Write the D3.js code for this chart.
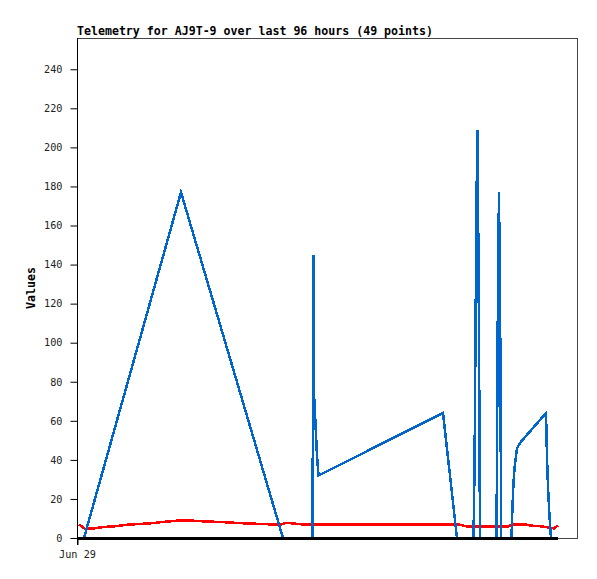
<!DOCTYPE html>
<html>
<head>
<meta charset="utf-8">
<script src="https://cdn.jsdelivr.net/npm/d3@7"></script>
<style>
  html, body { margin: 0; padding: 0; background: #fff; }
  svg { display: block; }
</style>
</head>
<body>
<script>
// ---- data (hours after Jun 29 00:00) ----
const titleText = "Telemetry for AJ9T-9 over last 96 hours (49 points)";
const yLabel = "Values";
const yTicks = [0, 20, 40, 60, 80, 100, 120, 140, 160, 180, 200, 220, 240];
const xTickLabels = ["Jun 29"];

const redHours = [0.40, 1.60, 3.61, 5.61, 7.62, 10.02, 12.63, 14.63, 17.23, 20.04, 23.25, 25.65,
  28.66, 33.67, 38.68, 40.48, 42.08, 44.09, 46.09, 50.70, 56.71, 62.73, 68.74, 74.75, 76.75,
  77.56, 78.36, 82.77, 86.37, 86.97, 90.18, 90.78, 92.79, 94.59, 95.59, 96.39];
const redValues = [7.0, 4.7, 5.0, 5.7, 6.0, 6.8, 7.2, 7.5, 8.2, 8.85, 8.85, 8.5,
  8.2, 7.5, 7.0, 6.7, 7.8, 7.2, 6.8, 6.8, 6.8, 6.8, 6.8, 6.8, 6.8,
  6.3, 5.8, 5.8, 5.8, 6.8, 6.8, 6.4, 6.0, 5.4, 4.9, 6.4];

const blueHours = [0.40, 1.40, 20.84, 41.28, 47.19, 47.39, 47.49, 47.80, 48.10, 48.40, 73.35, 73.65,
  76.15, 79.46, 79.66, 79.86, 80.06, 80.26, 80.56, 80.76, 84.07, 84.17, 84.37, 84.57, 84.87,
  84.97, 87.07, 87.27, 87.47, 87.68, 87.88, 88.18, 88.88, 93.99, 94.19, 94.39, 94.69, 94.99, 96.39];
const blueValues = [0, 0, 177, 0, 0, 145, 74, 58, 42, 32, 64, 57,
  0, 0, 35, 104, 174, 209, 104, 0, 0, 44, 132, 177, 88,
  0, 0, 16, 28, 36, 40, 46, 49, 64, 41, 26, 11, 0, 0];

const zeroHours = [0.0, 96.39];
const zeroValues = [0, 0];

// ---- layout ----
const W = 597, H = 579;
const mL = 77, mR = 578, mT = 38, mB = 538;
const start = new Date(2024, 5, 29, 0, 0, 0);
const hr = h => new Date(start.getTime() + h * 3600000);

const svg = d3.select("body").append("svg").attr("width", W).attr("height", H);

const x = d3.scaleTime().domain([hr(0), hr(100.4)]).range([mL, mR]);
const y = d3.scaleLinear().domain([0, 256]).range([mB, mT]);

// frame
svg.append("rect").attr("x", mL + 0.5).attr("y", mT + 0.5)
  .attr("width", mR - mL - 1).attr("height", mB - mT)
  .attr("fill", "none").attr("stroke", "#444").attr("stroke-width", 1);

const mono = "'DejaVu Sans Mono', 'Liberation Mono', monospace";

// y axis
const yAxis = d3.axisLeft(y).tickValues(yTicks).tickSize(7).tickPadding(8).tickFormat(d3.format("d"));
const gy = svg.append("g").attr("transform", `translate(${mL + 0.5},0)`).call(yAxis);
gy.select(".domain").attr("d", `M0,${mT}V${mB + 7}`).attr("stroke", "#000");
gy.selectAll(".tick line").attr("stroke", "#000");
gy.selectAll("text").attr("font-family", mono).attr("font-size", "10.2px").attr("fill", "#222");

// x axis
const xAxis = d3.axisBottom(x).tickValues([hr(0)]).tickSize(7).tickPadding(6)
  .tickFormat((d, i) => xTickLabels[i]);
const gx = svg.append("g").attr("transform", `translate(0,${mB})`).call(xAxis);
gx.select(".domain").remove();
gx.selectAll(".tick line").attr("stroke", "#000").attr("transform", "translate(0.5,0)");
gx.selectAll("text").attr("font-family", mono).attr("font-size", "10.2px").attr("fill", "#222");

// series
const line = d3.line().x(d => x(hr(d[0]))).y(d => y(d[1]));
svg.append("clipPath").attr("id", "clip").append("rect")
  .attr("x", mL).attr("y", mT).attr("width", mR - mL).attr("height", mB - mT + 2);

const plot = svg.append("g").attr("clip-path", "url(#clip)");
plot.append("path").datum(d3.zip(redHours, redValues)).attr("d", line)
  .attr("fill", "none").attr("stroke", "#ff0000").attr("stroke-width", 2.5)
  .attr("shape-rendering", "crispEdges");
plot.append("path").datum(d3.zip(blueHours, blueValues)).attr("d", line)
  .attr("fill", "none").attr("stroke", "#0066cc").attr("stroke-width", 2.5)
  .attr("shape-rendering", "crispEdges");
svg.append("path").datum(d3.zip(zeroHours, zeroValues)).attr("d", line)
  .attr("fill", "none").attr("stroke", "#000").attr("stroke-width", 3)
  .attr("shape-rendering", "crispEdges");

// title
svg.append("text").attr("x", mL).attr("y", 35).text(titleText)
  .attr("font-family", mono).attr("font-weight", "bold").attr("font-size", "11.6px").attr("fill", "#000");

// y label
svg.append("text").attr("transform", `translate(35,${(mT + mB) / 2}) rotate(-90)`)
  .attr("text-anchor", "middle").text(yLabel)
  .attr("font-family", mono).attr("font-weight", "bold").attr("font-size", "11.6px").attr("fill", "#000");
</script>
</body>
</html>
